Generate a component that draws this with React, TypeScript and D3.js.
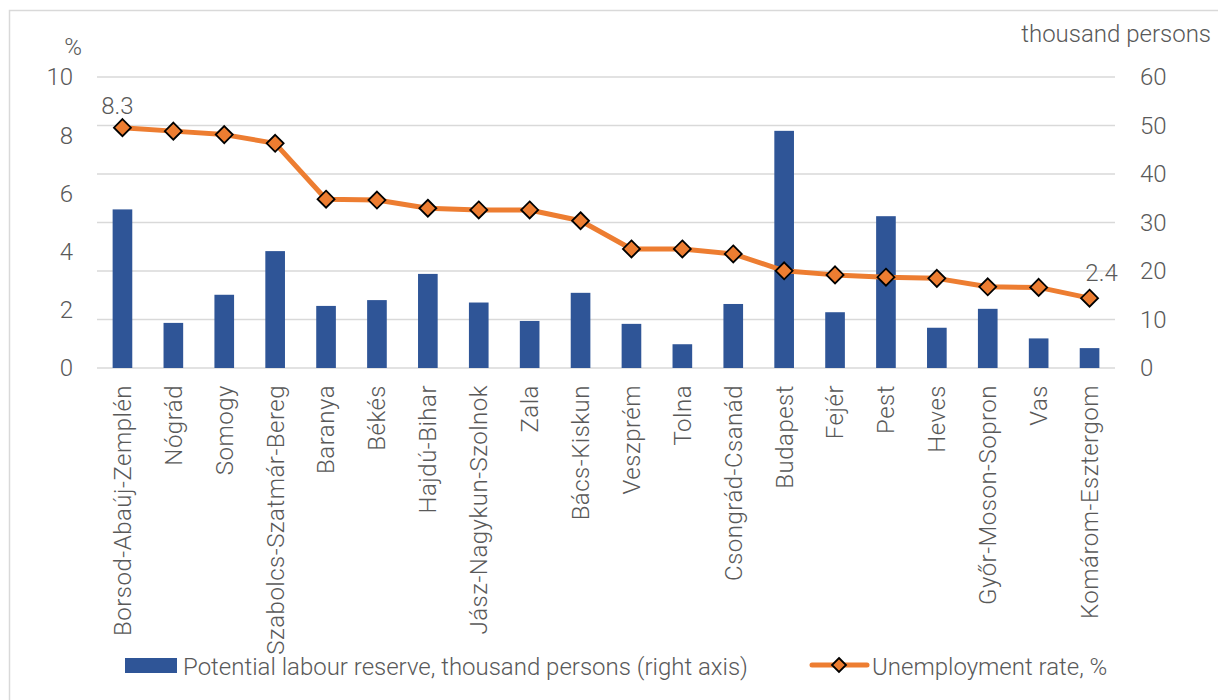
import React from "react";
import * as d3 from "d3";

const categories = [
  "Borsod-Abaúj-Zemplén", "Nógrád", "Somogy", "Szabolcs-Szatmár-Bereg", "Baranya", "Békés",
  "Hajdú-Bihar", "Jász-Nagykun-Szolnok", "Zala", "Bács-Kiskun", "Veszprém", "Tolna",
  "Csongrád-Csanád", "Budapest", "Fejér", "Pest", "Heves", "Győr-Moson-Sopron", "Vas", "Komárom-Esztergom",
];
const labourReserve = [32.7, 9.3, 15.1, 24.1, 12.8, 14.0, 19.4, 13.5, 9.7, 15.5, 9.1, 4.9, 13.2, 48.9, 11.5, 31.3, 8.3, 12.2, 6.1, 4.1];
const unemploymentRate = [8.26, 8.14, 8.02, 7.72, 5.8, 5.77, 5.49, 5.43, 5.43, 5.06, 4.09, 4.09, 3.92, 3.34, 3.2, 3.12, 3.08, 2.79, 2.77, 2.4];
const leftTicks = [0, 2, 4, 6, 8, 10];
const rightTicks = [0, 10, 20, 30, 40, 50, 60];
const labelledPoints = [{ index: 0, text: "8.3" }, { index: 19, text: "2.4" }];

const W = 1218, H = 700;
const FONT = "Roboto, 'Open Sans', sans-serif";
const TXT = "#595959";
const FS = 24;

export default function App() {
  const x = d3.scaleBand<string>().domain(categories).range([97, 1115]).paddingInner(0.614).paddingOuter(0.307);
  const yL = d3.scaleLinear().domain([0, 10]).range([368, 77]);
  const yR = d3.scaleLinear().domain([0, 60]).range([368, 77]);
  const cx = (c: string) => (x(c) as number) + x.bandwidth() / 2;
  const line = d3.line<number>().x((_, i) => cx(categories[i])).y((d) => yL(d));
  const diamond = (px: number, py: number, r = 8.5) => `M${px},${py - r}L${px + r},${py}L${px},${py + r}L${px - r},${py}Z`;

  return (
    <svg width={W} height={H} style={{ position: "absolute", left: 0, top: 0, display: "block", background: "#fff" }} fontFamily={FONT}>
      <rect x={9.5} y={10.5} width={1230} height={720} fill="#fff" stroke="#d9d9d9" strokeWidth={1.5} />
      {rightTicks.map((t) => (
        <line key={"g" + t} x1={97} x2={1115} y1={yR(t)} y2={yR(t)} stroke="#d9d9d9" strokeWidth={1.5} />
      ))}
      {leftTicks.map((t) => (
        <text key={"l" + t} x={73} y={yL(t)} dy="0.35em" textAnchor="end" fontSize={FS} fontWeight={300} fill={TXT}>{t}</text>
      ))}
      {rightTicks.map((t) => (
        <text key={"r" + t} x={1140} y={yR(t)} dy="0.35em" textAnchor="start" fontSize={FS} fontWeight={300} fill={TXT}>{t}</text>
      ))}
      <text x={73} y={55} textAnchor="middle" fontSize={FS} fontWeight={300} fill={TXT}>%</text>
      <text x={1211} y={42} textAnchor="end" fontSize={FS} fontWeight={300} fill={TXT}>thousand persons</text>
      {categories.map((c, i) => (
        <rect key={"b" + c} x={x(c)} y={yR(labourReserve[i])} width={x.bandwidth()} height={yR(0) - yR(labourReserve[i])} fill="#2F5597" />
      ))}
      <path d={line(unemploymentRate) || ""} fill="none" stroke="#ED7D31" strokeWidth={5} strokeLinejoin="round" />
      {categories.map((c, i) => (
        <path key={"m" + c} d={diamond(cx(c), yL(unemploymentRate[i]))} fill="#ED7D31" stroke="#000" strokeWidth={1.8} />
      ))}
      {labelledPoints.map((p) => {
        const px = cx(categories[p.index]);
        const py = yL(unemploymentRate[p.index]);
        const first = p.index === 0;
        return (
          <text key={"dl" + p.index} x={first ? px - 5 : px + 12} y={first ? py - 14 : py - 17} textAnchor="middle" fontSize={FS} fontWeight={300} fill={TXT}>{p.text}</text>
        );
      })}
      {categories.map((c) => (
        <text key={"c" + c} transform={`translate(${cx(c)},385) rotate(-90)`} dy="0.35em" textAnchor="end" fontSize={FS} fontWeight={300} letterSpacing={0.5} fill={TXT}>{c}</text>
      ))}
      <rect x={125} y={658} width={52} height={15} fill="#2F5597" />
      <text x={183} y={675} fontSize={FS} fontWeight={300} fill={TXT}>Potential labour reserve, thousand persons (right axis)</text>
      <line x1={812} x2={867} y1={665} y2={665} stroke="#ED7D31" strokeWidth={5} strokeLinecap="round" />
      <path d={diamond(839, 665, 7)} fill="#ED7D31" stroke="#000" strokeWidth={1.8} />
      <text x={872} y={675} fontSize={FS} fontWeight={300} fill={TXT}>Unemployment rate, %</text>
    </svg>
  );
}
